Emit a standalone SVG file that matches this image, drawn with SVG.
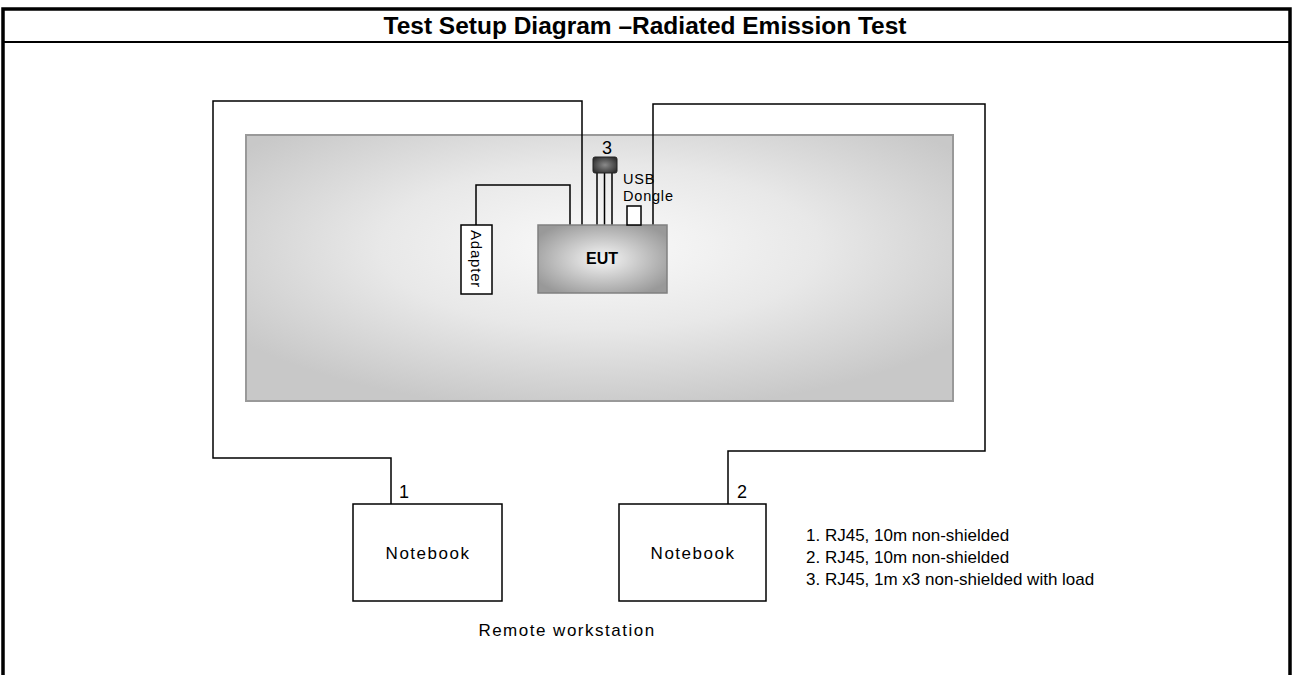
<svg xmlns="http://www.w3.org/2000/svg" width="1293" height="675" viewBox="0 0 1293 675">
<defs>
<radialGradient id="tableGrad" cx="0.5" cy="0.42" r="0.62">
<stop offset="0" stop-color="#fafafa"/>
<stop offset="0.5" stop-color="#e8e8e8"/>
<stop offset="1" stop-color="#c8c8c8"/>
</radialGradient>
<radialGradient id="eutGrad" cx="0.5" cy="0.5" r="0.6">
<stop offset="0" stop-color="#f6f6f6"/>
<stop offset="1" stop-color="#999"/>
</radialGradient>
<radialGradient id="connGrad" cx="0.5" cy="0.5" r="0.6">
<stop offset="0" stop-color="#8a8a8a"/>
<stop offset="1" stop-color="#2e2e2e"/>
</radialGradient>
</defs>
<style>
text{font-family:"Liberation Sans",Arial,sans-serif;fill:#000}
.title{font-size:23px;font-weight:bold}
.lbl{font-size:17px;letter-spacing:1.5px}
.leg{font-size:17px}
.num{font-size:18px}
.small{font-size:14.5px;letter-spacing:0.8px}
.cable{fill:none;stroke:#000;stroke-width:1.5}
.box{fill:#fff;stroke:#000;stroke-width:1.5}
</style>
<rect width="1293" height="675" fill="#fff"/>
<g id="frame">
<path d="M3,680 V9 H1290 V680" fill="none" stroke="#000" stroke-width="3.5"/>
<line x1="3" y1="42" x2="1290" y2="42" stroke="#000" stroke-width="2"/>
<text class="title" x="645" y="34" text-anchor="middle" textLength="523" lengthAdjust="spacingAndGlyphs">Test Setup Diagram –Radiated Emission Test</text>
</g>
<g id="table">
<rect x="246" y="135" width="707" height="266" fill="url(#tableGrad)" stroke="#999" stroke-width="2"/>
</g>
<g id="connectors">
<path class="cable" d="M582,225 V101 H213 V458 H391 V504"/>
<path class="cable" d="M653,225 V104 H985 V451 H728 V504"/>
<path class="cable" d="M476,225 V185 H570 V225"/>
<path class="cable" d="M597,173 V225 M604.5,173 V225 M612,173 V225"/>
</g>
<g id="eut">
<rect x="538" y="225" width="129" height="68" fill="url(#eutGrad)" stroke="#808080" stroke-width="1.5"/>
<text x="602" y="264" text-anchor="middle" style="font-size:16px;font-weight:bold">EUT</text>
</g>
<g id="adapter">
<rect class="box" x="461" y="225" width="31" height="69"/>
<text class="small" transform="translate(471,259) rotate(90)" text-anchor="middle" style="font-size:15px">Adapter</text>
</g>
<g id="load3">
<rect x="593" y="157" width="24" height="16" rx="2" fill="url(#connGrad)" stroke="#222" stroke-width="1"/>
<text class="num" x="607" y="154" text-anchor="middle">3</text>
</g>
<g id="dongle">
<rect class="box" x="627" y="206" width="14" height="19"/>
<text class="small" x="623" y="184">USB</text>
<text class="small" x="623" y="201">Dongle</text>
</g>
<g id="notebook1">
<rect class="box" x="353" y="504" width="149" height="97"/>
<text class="lbl" x="428" y="559" text-anchor="middle">Notebook</text>
<text class="num" x="399" y="498">1</text>
</g>
<g id="notebook2">
<rect class="box" x="619" y="504" width="147" height="97"/>
<text class="lbl" x="693" y="559" text-anchor="middle">Notebook</text>
<text class="num" x="737" y="498">2</text>
</g>
<g id="labels">
<text class="lbl" x="567" y="636" text-anchor="middle">Remote workstation</text>
<text class="leg" x="806" y="541">1. RJ45, 10m non-shielded</text>
<text class="leg" x="806" y="563">2. RJ45, 10m non-shielded</text>
<text class="leg" x="806" y="585">3. RJ45, 1m x3 non-shielded with load</text>
</g>
</svg>
